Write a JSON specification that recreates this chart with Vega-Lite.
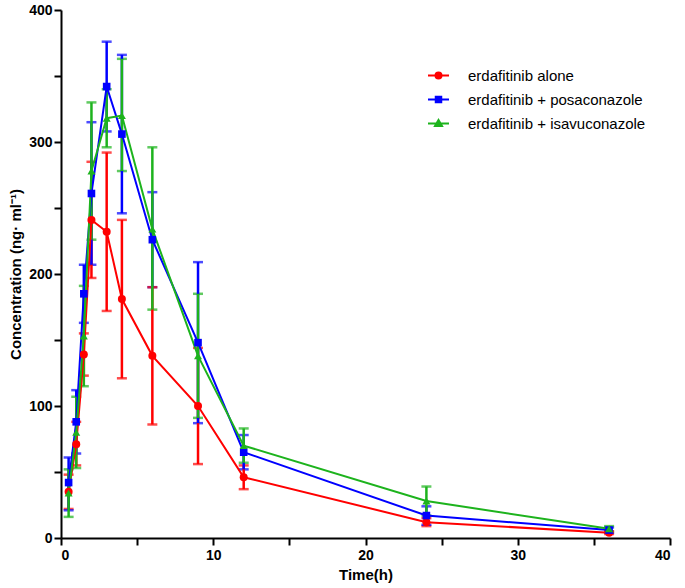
{
  "$schema": "https://vega.github.io/schema/vega-lite/v6.json",
  "width": 609,
  "height": 528,
  "autosize": "none",
  "padding": {"left": 61, "top": 10, "right": 15, "bottom": 50},
  "background": "white",
  "data": {
    "values": [
      {"series": "erdafitinib alone", "t": 0.5, "m": 35, "lo": 22, "hi": 48},
      {"series": "erdafitinib alone", "t": 1, "m": 71, "lo": 55, "hi": 88},
      {"series": "erdafitinib alone", "t": 1.5, "m": 139, "lo": 123, "hi": 155},
      {"series": "erdafitinib alone", "t": 2, "m": 241, "lo": 197, "hi": 285},
      {"series": "erdafitinib alone", "t": 3, "m": 232, "lo": 172, "hi": 292},
      {"series": "erdafitinib alone", "t": 4, "m": 181, "lo": 121, "hi": 241},
      {"series": "erdafitinib alone", "t": 6, "m": 138, "lo": 86, "hi": 190},
      {"series": "erdafitinib alone", "t": 9, "m": 100, "lo": 56, "hi": 144},
      {"series": "erdafitinib alone", "t": 12, "m": 46, "lo": 37, "hi": 55},
      {"series": "erdafitinib alone", "t": 24, "m": 12, "lo": 9, "hi": 15},
      {"series": "erdafitinib alone", "t": 36, "m": 4, "lo": 3, "hi": 5},
      {"series": "erdafitinib + posaconazole", "t": 0.5, "m": 42, "lo": 21, "hi": 61},
      {"series": "erdafitinib + posaconazole", "t": 1, "m": 88, "lo": 64, "hi": 112},
      {"series": "erdafitinib + posaconazole", "t": 1.5, "m": 185, "lo": 163, "hi": 207},
      {"series": "erdafitinib + posaconazole", "t": 2, "m": 261, "lo": 207, "hi": 315},
      {"series": "erdafitinib + posaconazole", "t": 3, "m": 342, "lo": 308, "hi": 376},
      {"series": "erdafitinib + posaconazole", "t": 4, "m": 306, "lo": 246, "hi": 366},
      {"series": "erdafitinib + posaconazole", "t": 6, "m": 226, "lo": 190, "hi": 262},
      {"series": "erdafitinib + posaconazole", "t": 9, "m": 148, "lo": 87, "hi": 209},
      {"series": "erdafitinib + posaconazole", "t": 12, "m": 65, "lo": 52, "hi": 78},
      {"series": "erdafitinib + posaconazole", "t": 24, "m": 17, "lo": 10, "hi": 24},
      {"series": "erdafitinib + posaconazole", "t": 36, "m": 6, "lo": 4, "hi": 8},
      {"series": "erdafitinib + isavuconazole", "t": 0.5, "m": 34, "lo": 16, "hi": 52},
      {"series": "erdafitinib + isavuconazole", "t": 1, "m": 80, "lo": 53, "hi": 107},
      {"series": "erdafitinib + isavuconazole", "t": 1.5, "m": 153, "lo": 115, "hi": 191},
      {"series": "erdafitinib + isavuconazole", "t": 2, "m": 278, "lo": 226, "hi": 330},
      {"series": "erdafitinib + isavuconazole", "t": 3, "m": 318, "lo": 296, "hi": 340},
      {"series": "erdafitinib + isavuconazole", "t": 4, "m": 320, "lo": 278, "hi": 363},
      {"series": "erdafitinib + isavuconazole", "t": 6, "m": 234, "lo": 173, "hi": 296},
      {"series": "erdafitinib + isavuconazole", "t": 9, "m": 138, "lo": 91, "hi": 185},
      {"series": "erdafitinib + isavuconazole", "t": 12, "m": 70, "lo": 57, "hi": 83},
      {"series": "erdafitinib + isavuconazole", "t": 24, "m": 28, "lo": 17, "hi": 39},
      {"series": "erdafitinib + isavuconazole", "t": 36, "m": 7, "lo": 5, "hi": 9}
    ]
  },
  "encoding": {
    "x": {
      "field": "t",
      "type": "quantitative",
      "title": "Time(h)",
      "scale": {"domain": [0, 40], "nice": false},
      "axis": {
        "values": [0, 5, 10, 15, 20, 25, 30, 35, 40],
        "labelExpr": "datum.value % 10 === 0 ? datum.label : ''",
        "grid": false,
        "tickSize": 7,
        "labelPadding": 3,
        "titlePadding": 5,
        "encode": {"ticks": {"update": {"y2": {"signal": "datum.value % 10 === 0 ? 7 : 4"}}}}
      }
    },
    "y": {
      "field": "m",
      "type": "quantitative",
      "title": "Concentration (ng· ml⁻¹)",
      "scale": {"domain": [0, 400], "nice": false},
      "axis": {
        "values": [0, 50, 100, 150, 200, 250, 300, 350, 400],
        "labelExpr": "datum.value % 100 === 0 ? datum.label : ''",
        "grid": false,
        "tickSize": 7,
        "labelPadding": 2,
        "titlePadding": 5,
        "encode": {"ticks": {"update": {"x2": {"signal": "datum.value % 100 === 0 ? -7 : -4"}}}}
      }
    },
    "color": {
      "field": "series",
      "type": "nominal",
      "scale": {
        "domain": ["erdafitinib alone", "erdafitinib + posaconazole", "erdafitinib + isavuconazole"],
        "range": ["#FF0000", "#0000FF", "#1DB31D"]
      },
      "legend": {
        "title": null,
        "orient": "none",
        "legendX": 370,
        "legendY": 58,
        "padding": 0,
        "symbolSize": 100,
        "symbolStrokeWidth": 2,
        "symbolOpacity": 1,
        "labelOffset": 22,
        "labelLimit": 400,
        "rowPadding": 8,
        "labelFontSize": 15,
        "labelFont": "Liberation Sans",
        "labelColor": "black"
      }
    }
  },
  "layer": [
    {
      "mark": {"type": "errorbar", "ticks": {"size": 10}, "thickness": 2.5},
      "encoding": {
        "y": {
          "field": "lo",
          "type": "quantitative",
          "title": "Concentration (ng· ml⁻¹)",
          "scale": {"domain": [0, 400], "nice": false},
          "axis": {
            "values": [0, 50, 100, 150, 200, 250, 300, 350, 400],
            "labelExpr": "datum.value % 100 === 0 ? datum.label : ''",
            "grid": false,
            "tickSize": 7,
            "labelPadding": 2,
            "titlePadding": 5,
            "encode": {"ticks": {"update": {"x2": {"signal": "datum.value % 100 === 0 ? -7 : -4"}}}}
          }
        },
        "y2": {"field": "hi"}
      }
    },
    {
      "mark": {"type": "line", "strokeWidth": 2}
    },
    {
      "transform": [{"filter": "datum.series === 'erdafitinib alone'"}],
      "mark": {"type": "point", "shape": "circle", "filled": true, "opacity": 1, "size": 64}
    },
    {
      "transform": [{"filter": "datum.series === 'erdafitinib + posaconazole'"}],
      "mark": {"type": "point", "shape": "square", "filled": true, "opacity": 1, "size": 58}
    },
    {
      "transform": [{"filter": "datum.series === 'erdafitinib + isavuconazole'"}],
      "mark": {"type": "point", "shape": "triangle-up", "filled": true, "opacity": 1, "size": 64}
    },
    {
      "transform": [{"filter": "datum.t === 36"}],
      "mark": {"type": "point", "filled": true, "opacity": 1, "size": 0},
      "encoding": {
        "shape": {
          "field": "series",
          "type": "nominal",
          "scale": {
            "domain": ["erdafitinib alone", "erdafitinib + posaconazole", "erdafitinib + isavuconazole"],
            "range": [
              "M-2.1,0H2.1M-0.6,0A0.6,0.6,0,1,1,0.6,0A0.6,0.6,0,1,1,-0.6,0Z",
              "M-2.1,0H2.1M-0.55,-0.55H0.55V0.55H-0.55Z",
              "M-2.1,0H2.1M-0.7,0.5L0,-0.7L0.7,0.5Z"
            ]
          },
          "legend": {
            "title": null,
            "orient": "none",
            "legendX": 370,
            "legendY": 58,
            "padding": 0,
            "symbolSize": 100,
            "symbolStrokeWidth": 2,
            "symbolOpacity": 1,
            "labelOffset": 22,
            "labelLimit": 400,
            "rowPadding": 8,
            "labelFontSize": 15,
            "labelFont": "Liberation Sans",
            "labelColor": "black"
          }
        },
        "stroke": {
          "field": "series",
          "type": "nominal",
          "scale": {
            "domain": ["erdafitinib alone", "erdafitinib + posaconazole", "erdafitinib + isavuconazole"],
            "range": ["#FF0000", "#0000FF", "#1DB31D"]
          },
          "legend": {
            "title": null,
            "orient": "none",
            "legendX": 370,
            "legendY": 58,
            "padding": 0,
            "symbolSize": 100,
            "symbolStrokeWidth": 2,
            "symbolOpacity": 1,
            "labelOffset": 22,
            "labelLimit": 400,
            "rowPadding": 8,
            "labelFontSize": 15,
            "labelFont": "Liberation Sans",
            "labelColor": "black"
          }
        }
      }
    }
  ],
  "config": {
    "view": {"stroke": null},
    "axis": {
      "domainColor": "black",
      "domainWidth": 2,
      "tickColor": "black",
      "tickWidth": 2,
      "labelFont": "Liberation Sans",
      "labelFontSize": 14,
      "labelFontWeight": "bold",
      "labelColor": "black",
      "titleFont": "Liberation Sans",
      "titleFontSize": 15,
      "titleFontWeight": "bold",
      "titleColor": "black"
    }
  }
}
